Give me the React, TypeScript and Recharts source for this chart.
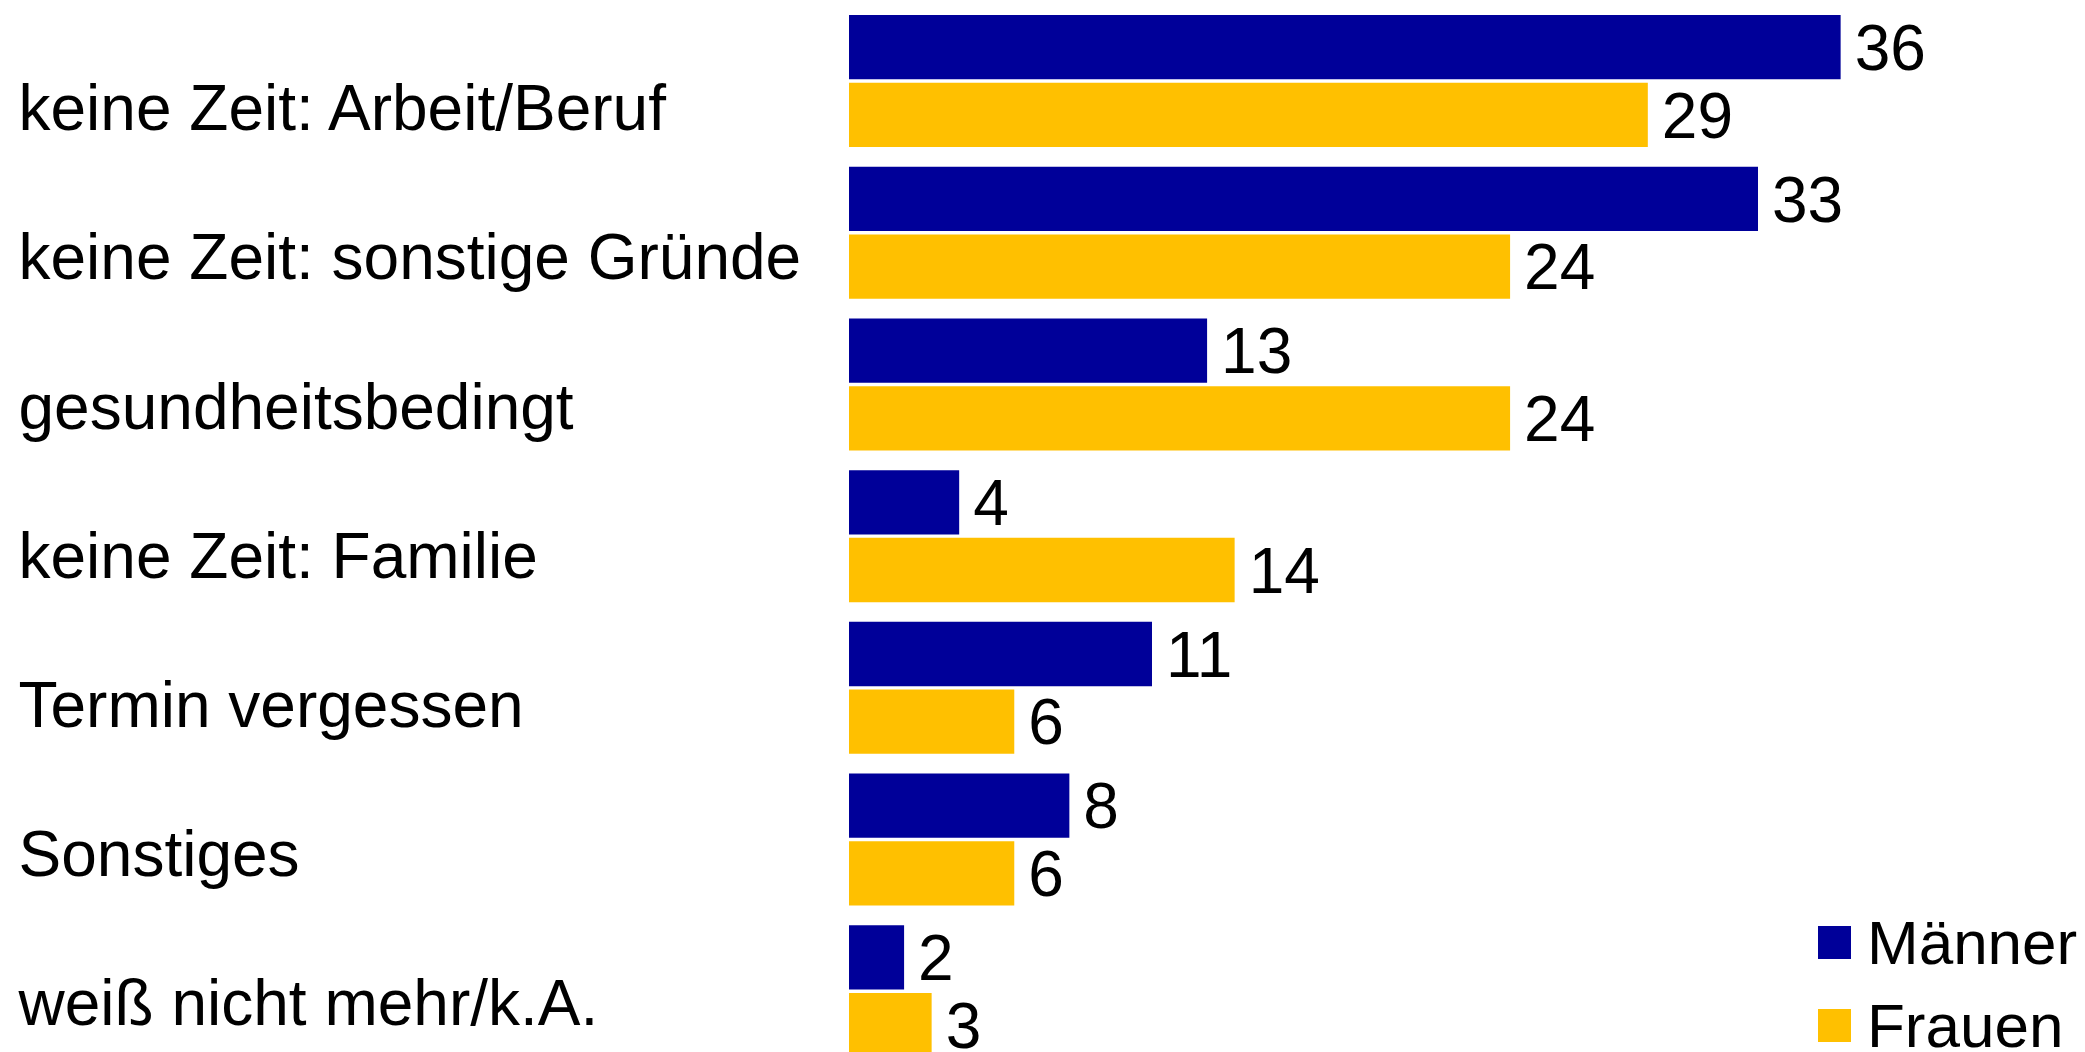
import React from 'react';
import { BarChart, Bar, XAxis, YAxis, Legend, LabelList } from 'recharts';

// Werte (Prozent)
const categories = [
  'keine Zeit: Arbeit/Beruf',
  'keine Zeit: sonstige Gründe',
  'gesundheitsbedingt',
  'keine Zeit: Familie',
  'Termin vergessen',
  'Sonstiges',
  'weiß nicht mehr/k.A.',
];
const maenner = [36, 33, 13, 4, 11, 8, 2];
const frauen = [29, 24, 24, 14, 6, 6, 3];
const seriesOrder = ['Männer', 'Frauen'];

const colors = {
  maenner: '#000099',
  frauen: '#FFC000',
  text: '#000000',
};

const FONT = '"Liberation Sans", Arial, sans-serif';

const data = categories.map((name, i) => ({ name, Männer: maenner[i], Frauen: frauen[i] }));

// category labels sit a little below the bar pair and drift upward row by row
function CategoryTick(props: any) {
  const { y, payload, index } = props;
  return (
    <text x={18.5} y={y + 49.3 - 2.5 * index} fill={colors.text} fontSize={64} fontFamily={FONT} textAnchor="start">
      {payload.value}
    </text>
  );
}

function LegendContent(props: any) {
  // vertical charts hand the payload over reversed; keep Männer on top
  const items = [...(props.payload ?? [])].sort(
    (a: any, b: any) => seriesOrder.indexOf(a.value) - seriesOrder.indexOf(b.value),
  );
  return (
    <div style={{ fontFamily: FONT }}>
      {items.map((it: any) => (
        <div key={it.value} style={{ display: 'flex', alignItems: 'center', height: 83 }}>
          <span style={{ display: 'inline-block', width: 33, height: 33, background: it.color, marginRight: 16 }} />
          <span style={{ fontSize: 62, color: colors.text, whiteSpace: 'nowrap' }}>{it.value}</span>
        </div>
      ))}
    </div>
  );
}

export default function App() {
  return (
    <div style={{ position: 'absolute', left: 0, top: 0, width: 2085, height: 1052, overflow: 'hidden', background: '#fff' }}>
      <BarChart
        width={2085}
        height={1067}
        data={data}
        layout="vertical"
        margin={{ top: 5, right: 24, bottom: 0, left: 0 }}
        barSize={64.3}
        barGap={3.4}
      >
        <XAxis type="number" domain={[0, 44]} hide />
        <YAxis type="category" dataKey="name" width={849} axisLine={false} tickLine={false} tick={<CategoryTick />} interval={0} />
        <Legend
          layout="vertical"
          align="center"
          verticalAlign="middle"
          content={<LegendContent />}
          wrapperStyle={{ left: 1818, top: 901, width: 267, height: 166 }}
        />
        <Bar dataKey="Männer" fill={colors.maenner} isAnimationActive={false}>
          <LabelList dataKey="Männer" position="right" offset={14} fill={colors.text} fontSize={64} fontFamily={FONT} />
        </Bar>
        <Bar dataKey="Frauen" fill={colors.frauen} isAnimationActive={false}>
          <LabelList dataKey="Frauen" position="right" offset={14} fill={colors.text} fontSize={64} fontFamily={FONT} />
        </Bar>
      </BarChart>
    </div>
  );
}
